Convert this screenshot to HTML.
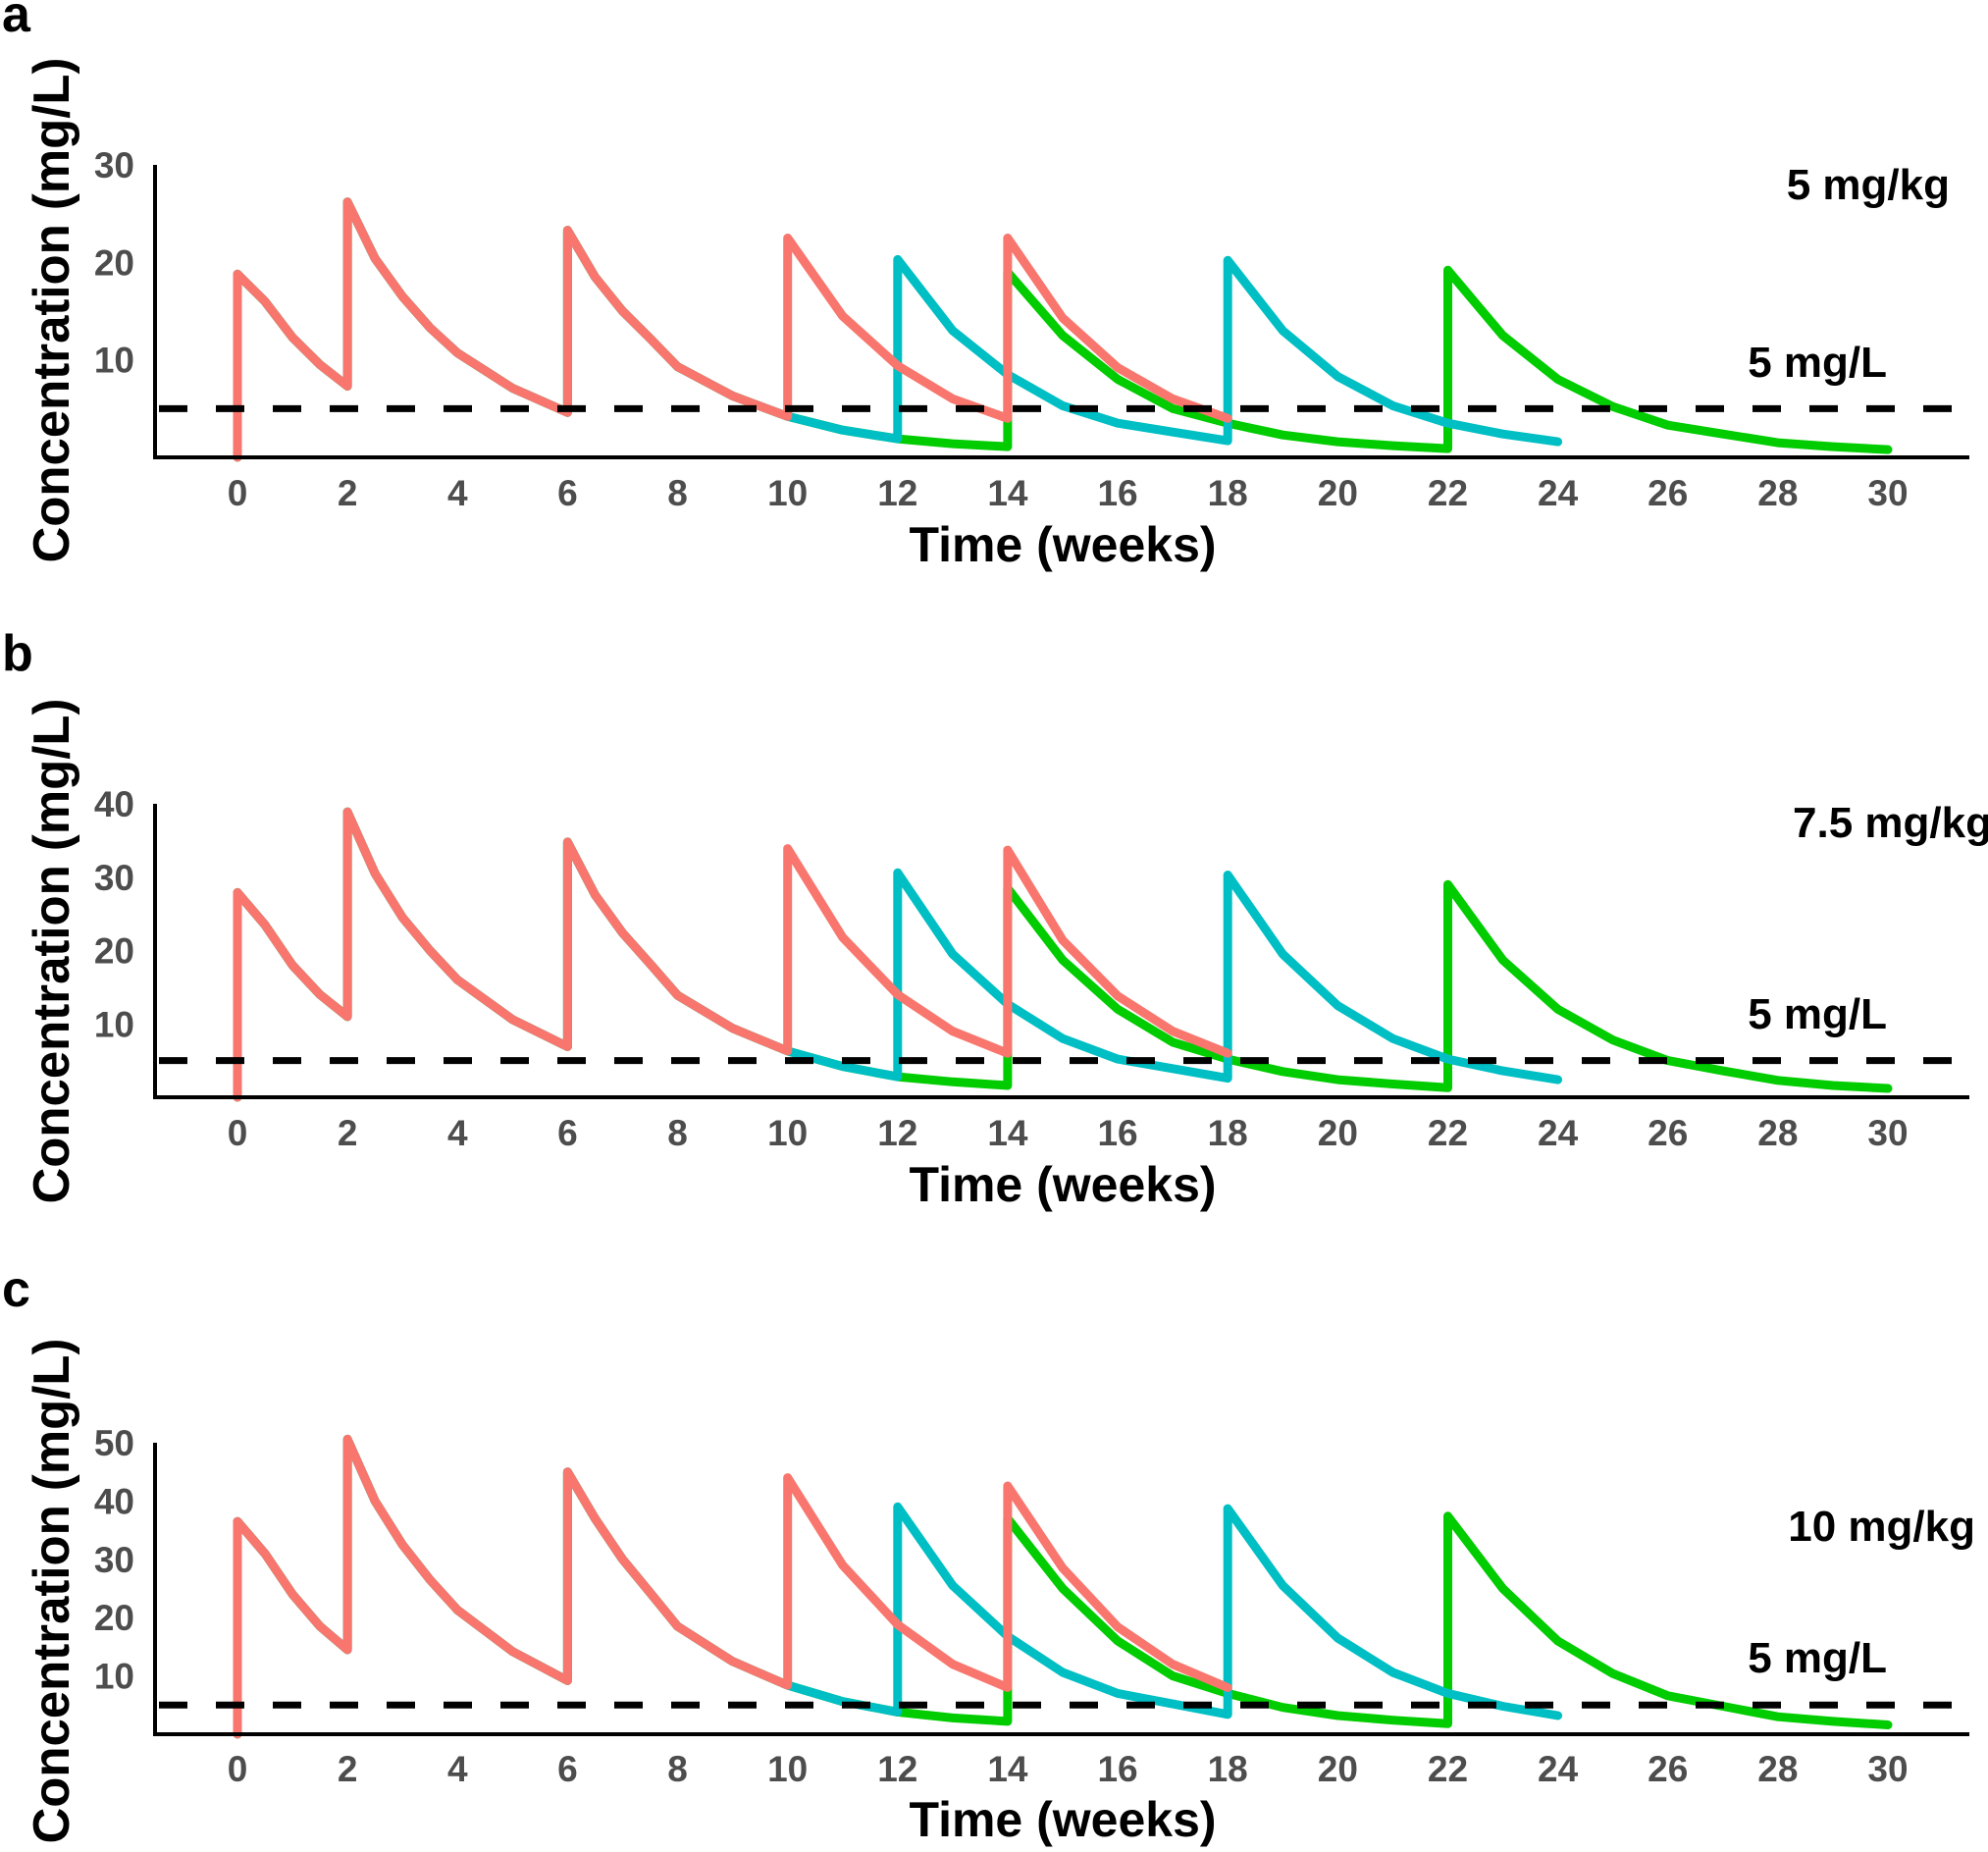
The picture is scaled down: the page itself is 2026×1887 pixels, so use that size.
<!DOCTYPE html>
<html><head><meta charset="utf-8"><style>
html,body{margin:0;padding:0;background:#fff;}
svg{display:block;}
.tick{font-family:"Liberation Sans Narrow","Liberation Sans",sans-serif;font-weight:bold;font-size:37px;fill:#4d4d4d;}
.lab{font-family:"Liberation Sans",sans-serif;font-weight:bold;fill:#000;}
</style></head><body>
<svg id="chart" width="2026" height="1887" viewBox="0 0 2026 1887" xmlns="http://www.w3.org/2000/svg"></svg>
<script>
const redT=[0,0,0.5,1,1.5,2,2,2.5,3,3.5,4,5,6,6,6.5,7,7.5,8,9,10,10,11,12,13,14,14,15,16,17,18];
const cyanT=[0,0,0.5,1,1.5,2,2,2.5,3,3.5,4,5,6,6,6.5,7,7.5,8,9,10,11,12,12,13,14,15,16,17,18,18,19,20,21,22,23,24];
const greenT=[0,0,0.5,1,1.5,2,2,2.5,3,3.5,4,5,6,6,6.5,7,7.5,8,9,10,11,12,13,14,14,15,16,17,18,19,20,21,22,22,23,24,25,26,27,28,29,30];

const redA=[0,18.8,16,12.3,9.5,7.3,26.2,20.4,16.5,13.3,10.7,7.1,4.6,23.3,18.5,15,12.2,9.3,6.3,4.2,22.5,14.5,9.4,6,4,22.5,14.3,9.2,6,4];
const cyanA=[0,18.8,16,12.3,9.5,7.3,26.2,20.4,16.5,13.3,10.7,7.1,4.6,23.3,18.5,15,12.2,9.3,6.3,4.2,2.8,1.9,20.3,13,8.5,5.3,3.5,2.6,1.7,20.2,13,8.3,5.3,3.5,2.4,1.6];
const greenA=[0,18.8,16,12.3,9.5,7.3,26.2,20.4,16.5,13.3,10.7,7.1,4.6,23.3,18.5,15,12.2,9.3,6.3,4.2,2.8,1.9,1.4,1.1,19,12.5,8,5,3.5,2.3,1.6,1.2,0.9,19.2,12.5,8,5.2,3.3,2.4,1.5,1.1,0.8];

const redB=[0,27.9,23.5,18,14,11,38.9,30.5,24.5,20,16,10.6,6.9,34.8,27.6,22.4,18.2,13.9,9.4,6.3,33.9,21.8,14,9,6,33.7,21.4,13.8,9,6];
const cyanB=[0,27.9,23.5,18,14,11,38.9,30.5,24.5,20,16,10.6,6.9,34.8,27.6,22.4,18.2,13.9,9.4,6.3,4.2,2.8,30.6,19.5,12.7,8,5.2,3.9,2.6,30.3,19.5,12.5,8,5.2,3.6,2.4];
const greenB=[0,27.9,23.5,18,14,11,38.9,30.5,24.5,20,16,10.6,6.9,34.8,27.6,22.4,18.2,13.9,9.4,6.3,4.2,2.8,2.1,1.6,28.5,18.7,12,7.5,5.2,3.5,2.4,1.8,1.3,29,18.7,12,7.8,5,3.6,2.3,1.6,1.2];

const redC=[0,36.5,31,24,18.5,14.5,50.6,40,32.5,26.5,21.3,14.2,9.2,45,37,30,24.3,18.5,12.5,8.4,44,29,18.8,12,8,42.6,28.5,18.4,12,8];
const cyanC=[0,36.5,31,24,18.5,14.5,50.6,40,32.5,26.5,21.3,14.2,9.2,45,37,30,24.3,18.5,12.5,8.4,5.6,3.8,39,25.5,16.8,10.6,7,5.2,3.4,38.7,25.5,16.5,10.6,7,4.8,3.2];
const greenC=[0,36.5,31,24,18.5,14.5,50.6,40,32.5,26.5,21.3,14.2,9.2,45,37,30,24.3,18.5,12.5,8.4,5.6,3.8,2.8,2.2,37,25,16,10,7,4.6,3.2,2.4,1.8,37.4,25,16,10.4,6.6,4.8,3,2.2,1.6];

const xTicks=[0,2,4,6,8,10,12,14,16,18,20,22,24,26,28,30];
const yTicksA=[10,20,30];
const yTicksB=[10,20,30,40];
const yTicksC=[10,20,30,40,50];
const threshold=5;
const doseLabels=["5 mg/kg","7.5 mg/kg","10 mg/kg"];
const panelLetters=["a","b","c"];

const NS="http://www.w3.org/2000/svg";
const svg=document.getElementById("chart");
function mk(tag,attrs,parent){const e=document.createElementNS(NS,tag);for(const k in attrs)e.setAttribute(k,attrs[k]);(parent||svg).appendChild(e);return e;}

const panels=[
 {top:168,bottom:466,yMax:30,ticks:yTicksA,red:redA,cyan:cyanA,green:greenA,letterY:32,doseY:203,thrY:384,tickY:515,titleY:572,yTitleC:316,doseX:1987},
 {top:819,bottom:1118,yMax:40,ticks:yTicksB,red:redB,cyan:cyanB,green:greenB,letterY:683,doseY:853,thrY:1048,tickY:1167,titleY:1224,yTitleC:969,doseX:2030},
 {top:1470,bottom:1767,yMax:50,ticks:yTicksC,red:redC,cyan:cyanC,green:greenC,letterY:1331,doseY:1570,thrY:1704,tickY:1815,titleY:1871,yTitleC:1621,doseX:2013}
];
const axisL=158,axisR=2007,x0=242,x30=1924;
const xs=t=>x0+(x30-x0)*t/30;

panels.forEach((p,i)=>{
  const g=mk("g",{});
  
  
  const ys=v=>p.bottom-(p.bottom-p.top)*v/p.yMax;
  const L=mk("text",{x:2,y:p.letterY,class:"lab","font-size":52},g);L.textContent=panelLetters[i];
  
  
  const yt=mk("text",{x:0,y:0,class:"lab","font-size":52,"text-anchor":"middle",transform:`translate(70,${p.yTitleC}) rotate(-90)`,textLength:515,lengthAdjust:"spacingAndGlyphs"},g);
  yt.textContent="Concentration (mg/L)";
  
  
  const xt=mk("text",{x:1083,y:p.titleY,class:"lab","font-size":50,"text-anchor":"middle"},g);
  xt.textContent="Time (weeks)";
  
  
  p.ticks.forEach(v=>{const t=mk("text",{x:137,y:ys(v)+13,class:"tick","text-anchor":"end"},g);t.textContent=v;
    
    });
  xTicks.forEach(v=>{const t=mk("text",{x:xs(v),y:p.tickY,class:"tick","text-anchor":"middle"},g);t.textContent=v;
    
    });
  const series=[["green",p.green,greenT,"#00CC00"],["cyan",p.cyan,cyanT,"#00BFC4"],["red",p.red,redT,"#F8766D"]];
  series.forEach(([n,vals,ts,c])=>{
    const d=vals.map((v,k)=>(k?"L":"M")+xs(ts[k]).toFixed(1)+" "+ys(v).toFixed(1)).join(" ");
    const pa=mk("path",{d:d,fill:"none",stroke:c,"stroke-width":9,"stroke-linejoin":"round","stroke-linecap":"round"},g);
    
    
  });
  const th=mk("line",{x1:axisL+4,x2:axisR,y1:ys(threshold),y2:ys(threshold),stroke:"#000","stroke-width":7,"stroke-dasharray":"29 29"},g);
  
  
  const ax=mk("path",{d:`M${axisL} ${p.top} L${axisL} ${p.bottom} L${axisR} ${p.bottom}`,fill:"none",stroke:"#000","stroke-width":4},g);
  
  
  const dl=mk("text",{x:p.doseX,y:p.doseY,class:"lab","font-size":44,"text-anchor":"end"},g);dl.textContent=doseLabels[i];
  
  
  const tl=mk("text",{x:1923,y:p.thrY,class:"lab","font-size":44,"text-anchor":"end"},g);tl.textContent="5 mg/L";
  
  
});
</script>
</body></html>
